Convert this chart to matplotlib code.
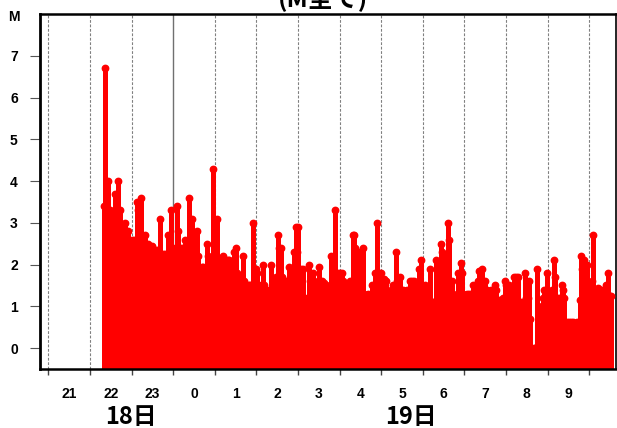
import matplotlib
matplotlib.use("Agg")
import matplotlib.pyplot as plt

plt.rcParams['font.family'] = ['Noto Sans CJK JP', 'DejaVu Sans']

# event times: minutes after 18日 22:00 ; magnitudes
times = [20.2,22.0,23.1,24.5,26.0,28.8,31.7,33.2,36.1,37.5,40.4,41.8,43.3,44.7,46.2,47.6,49.0,50.5,53.4,54.8,
         56.2,57.7,59.1,60.6,63.5,66.3,67.8,69.2,70.7,73.6,75.0,76.4,79.3,80.8,83.7,86.5,89.4,92.3,95.2,98.1,
         101.0,102.4,105.3,108.2,109.6,112.5,115.4,116.8,118.3,119.7,121.2,122.6,125.5,126.9,128.4,131.2,134.1,137.0,138.5,139.9,
         142.8,144.2,147.1,148.6,151.4,154.3,155.8,157.2,160.1,161.5,163.0,165.9,168.7,170.2,171.6,173.1,174.5,177.4,178.8,181.7,
         183.2,184.6,187.5,188.9,191.8,193.3,194.7,196.2,199.0,200.5,203.4,206.2,207.7,210.6,212.0,213.5,216.3,217.8,220.7,222.1,
         223.6,226.4,229.3,230.8,233.7,235.1,236.5,239.4,240.9,242.3,243.7,246.6,249.5,251.0,252.4,255.3,258.2,261.1,262.5,265.4,
         268.3,271.2,272.6,274.0,275.5,276.9,279.8,282.7,285.6,287.0,288.5,291.3,294.2,295.7,297.1,298.6,300.0,301.4,302.9,304.3,
         307.2,308.7,310.1,313.0,315.9,317.3,318.7,321.6,323.1,326.0,328.8,330.3,331.7,334.6,337.5,338.9,341.8,343.3,346.2,347.6,
         349.0,351.9,353.4,354.8,357.7,360.6,363.5,364.9,366.3,369.2,372.1,375.0,377.9,379.3,380.8,382.2,383.7,385.1,386.5,388.0,
         390.9,393.7,395.2,401.0,402.4,403.8,406.7,408.2,411.1,413.9,415.4,416.8,419.7,422.6,424.0,425.5,426.9,428.4,431.2,432.7,
         434.1,437.0,438.5,441.3,442.8,444.2,447.1,448.6,451.4,454.3,457.2,458.7,461.5,464.4,467.3,468.7,471.6,474.5,476.0,477.4,
         478.8,481.7,483.2,484.6,487.5,490.4,491.8,494.7,496.2,499.0,500.5,501.9,504.8,506.3,507.7,509.1,512.0,513.5,514.9,516.3,
         517.8,519.2,522.1,523.6,526.4,529.3,530.8,532.2,535.1,536.5,538.0,540.9,543.7,546.6,549.5,552.4,553.8,556.7,559.6,561.1,
         562.5,563.9,565.4,566.8,569.7,571.2,572.6,575.5,576.9,578.4,581.2,584.1,585.6,587.0,589.9,592.8,595.7,598.6,600.0,602.9,
         604.3,607.2,610.1,611.5,614.4,617.3,618.7,621.6,624.5,627.4,628.8,631.7,633.2,634.6,640.4,641.8,643.3,644.7,646.2,649.0,
         650.5,651.9,653.4,654.8,656.2,659.1,660.6,663.5,666.3,669.2,670.7,672.1,675.0,677.9,680.8,682.2,683.6,685.1,688.0,690.9,
         693.7,696.6,702.4,706.7,708.2,709.6,712.5,713.9,716.8,718.3,719.7,721.2,724.0,725.5,726.9,728.4,729.8,731.2,732.7,735.6,
         738.5,741.3,742.8,744.2,747.1,748.5,750.0,751.4]
mags = [3.4,6.7,3.4,3.3,4.0,3.3,3.2,3.1,3.7,3.2,4.0,3.3,3.3,2.6,2.7,2.7,2.5,3.0,2.5,2.8,
        2.6,2.5,2.5,2.6,2.6,2.6,3.5,3.3,2.6,3.6,2.6,2.5,2.7,2.5,2.5,2.45,2.45,2.35,2.35,2.35,
        3.1,2.25,2.25,2.25,1.9,2.7,2.3,3.3,2.2,2.1,2.1,2.4,3.4,2.8,2.4,2.4,2.4,2.6,2.4,2.4,
        3.6,2.3,3.1,2.2,2.2,2.8,2.2,1.8,1.8,1.95,1.95,1.8,2.5,2.2,1.6,1.5,1.7,4.3,1.8,2.0,
        3.1,2.1,2.1,1.9,2.2,2.0,1.95,2.1,2.1,2.1,2.0,2.0,2.3,2.4,1.8,1.7,1.7,1.7,2.2,1.6,
        1.5,1.5,1.5,1.5,1.4,3.0,1.5,1.9,1.8,1.4,1.5,1.4,2.0,1.5,1.4,1.3,1.4,2.0,1.4,1.4,
        1.7,2.7,2.4,1.7,2.4,1.7,1.6,1.6,1.6,1.95,1.6,1.7,2.3,1.9,2.9,2.3,2.9,1.7,1.7,1.9,
        1.9,1.2,1.15,1.2,2.0,1.6,1.5,1.8,1.5,1.5,1.6,1.95,1.6,1.6,1.55,1.25,1.25,1.4,1.5,2.2,
        1.5,1.8,3.3,1.8,1.8,1.8,1.8,1.6,1.5,1.5,1.5,1.6,1.6,2.7,2.7,2.4,1.7,2.3,2.3,1.6,
        1.5,2.4,1.3,1.3,1.0,1.0,1.5,1.1,1.8,3.0,1.8,1.8,1.8,1.6,1.65,1.6,1.6,1.0,1.0,1.05,
        1.4,1.5,1.2,2.3,1.6,1.6,1.7,1.4,1.4,1.35,1.4,1.3,1.6,1.6,1.6,1.3,1.3,1.9,1.3,2.1,
        1.1,1.1,1.5,1.1,1.1,1.9,1.1,1.1,1.1,2.1,1.0,0.95,0.95,2.5,2.3,1.2,1.3,1.5,2.2,3.0,
        2.6,1.2,1.6,1.2,1.2,1.3,1.8,1.3,2.05,1.8,1.3,1.25,1.3,1.3,1.3,1.5,1.3,1.3,1.6,1.85,
        1.5,1.6,1.9,1.3,1.6,1.3,1.4,1.3,1.3,1.4,1.3,1.5,1.4,1.15,1.15,1.15,1.2,1.6,1.5,1.4,
        1.5,1.3,1.3,1.7,1.7,1.7,1.1,1.1,1.1,1.8,1.2,1.2,1.6,0.7,0.0,0.0,0.0,1.9,0.0,0.0,
        0.5,1.0,1.2,1.4,1.2,1.8,1.3,1.2,1.4,2.1,1.7,1.2,1.2,1.2,1.5,1.4,1.2,0.63,0.63,0.63,
        0.63,0.63,0.63,1.15,2.2,1.9,2.1,1.3,2.0,1.5,1.5,1.2,1.6,2.7,1.1,0.9,1.1,1.1,1.45,1.4,
        1.4,1.4,1.3,1.5,1.8,1.25,1.25,1.25]

hour_ticks = [-60, 0, 60, 120, 180, 240, 300, 360, 420, 480, 540, 600, 660, 720]
label_pos = [-30, 30, 90, 150, 210, 270, 330, 390, 450, 510, 570, 630, 690]
hour_labels = ['21', '22', '23', '0', '1', '2', '3', '4', '5', '6', '7', '8', '9']
day_pos = [59.1, 463.0]
day_labels = ['18日', '19日']
y_ticks = [0, 1, 2, 3, 4, 5, 6, 7]

fig = plt.figure(figsize=(6.17, 4.28), dpi=100)
ax = fig.add_axes([40/617, 59/428, 576/617, 355/428])
ax.set_xlim(-72.1, 758.7)
ax.set_ylim(-0.5, 8.0)

for h in hour_ticks:
    if h == 120:
        ax.axvline(h, color='#707070', lw=1.0, zorder=0)
    else:
        ax.axvline(h, color='#808080', lw=0.8, ls=(0, (2.5, 1.5)), zorder=0)

ax.vlines(times, -0.5, mags, color='#ff0000', lw=2.2, zorder=2, antialiased=False)
ax.plot(times, mags, 'o', color='#ff0000', ms=4.6, mec='#ff0000', zorder=3, ls='none')

for s, w in [('left', 2.0), ('bottom', 1.8), ('top', 1.8), ('right', 1.2)]:
    ax.spines[s].set_linewidth(w)
    ax.spines[s].set_color('black')

tfont = dict(family='Liberation Sans', weight='bold', size=10)
ax.set_xticks(hour_ticks)
ax.set_xticklabels([''] * len(hour_ticks))
ax.set_xticks(label_pos, minor=True)
ax.set_xticklabels(hour_labels, minor=True, fontdict=tfont)
ax.tick_params(axis='x', which='major', length=4, width=1, color='#444444', direction='out')
ax.tick_params(axis='x', which='minor', length=0, pad=13)
ax.set_yticks(y_ticks)
ax.set_yticklabels([str(v) for v in y_ticks], fontdict=tfont)
ax.tick_params(axis='y', length=7, width=0.8, color='#555555', pad=9)

fig.text(14/617, 1 - 17/428, 'M', ha='center', va='center',
         family='Liberation Sans', weight='bold', size=10)

for p, l in zip(day_pos, day_labels):
    ax.text(p, -0.135, l, transform=ax.get_xaxis_transform(), ha='center', va='center',
            fontsize=17, fontweight='bold', family=['Noto Sans CJK JP', 'DejaVu Sans'])

fig.text(323/617, 1 - 7/428, '(M全て)', ha='center', va='baseline',
         fontsize=18, fontweight='bold', family=['Noto Sans CJK JP', 'DejaVu Sans'])

fig.savefig('out.png', dpi=100)
